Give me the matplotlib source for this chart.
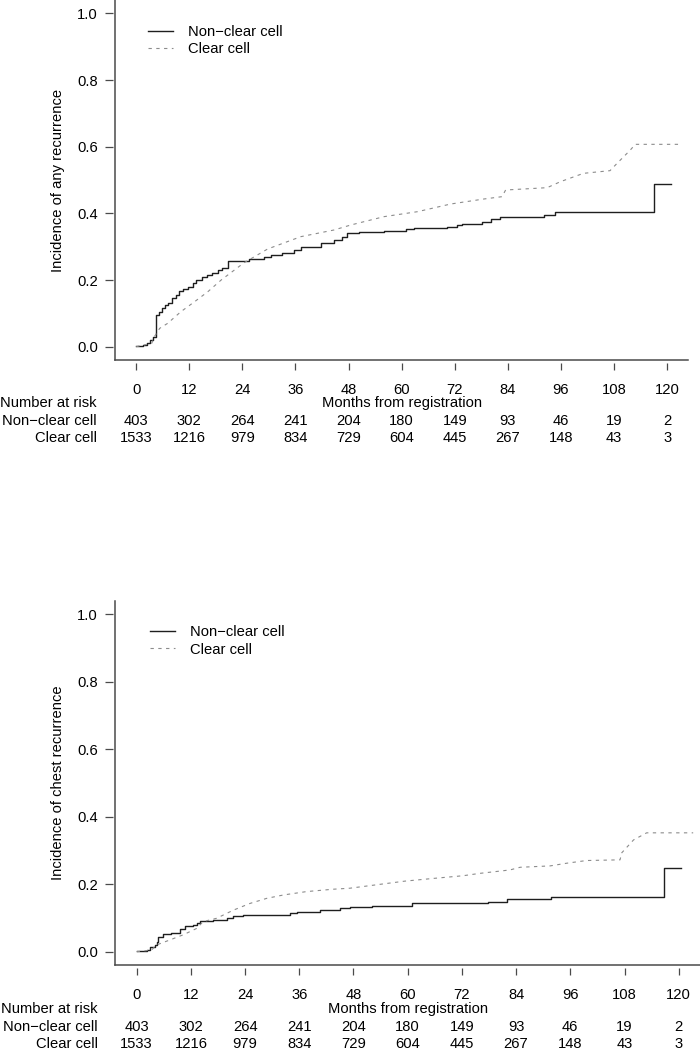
import matplotlib
matplotlib.use('Agg')
import matplotlib.pyplot as plt
import matplotlib.transforms as mtransforms

plt.rcParams['font.family'] = ['Liberation Sans', 'DejaVu Sans']
FS = 10.6
plt.rcParams['font.size'] = FS

# ---- data ----
months = [0, 12, 24, 36, 48, 60, 72, 84, 96, 108, 120]
yticks = [0.0, 0.2, 0.4, 0.6, 0.8, 1.0]
groups = ['Non\u2212clear cell', 'Clear cell']
risk_nonclear = [403, 302, 264, 241, 204, 180, 149, 93, 46, 19, 2]
risk_clear = [1533, 1216, 979, 834, 729, 604, 445, 267, 148, 43, 3]

# any recurrence, non-clear cell (step times / values)
any_nc_t = [0, 1.5, 2.5, 3.2, 3.8, 4.4, 5.2, 5.8, 6.5, 7.2, 8.0, 9.0, 9.6, 10.5, 11.8,
            12.8, 13.6, 14.8, 16.0, 17.2, 18.5, 19.5, 20.7, 25.5, 28.9, 30.5, 33.0,
            35.7, 37.2, 41.7, 44.7, 46.5, 47.7, 50.4, 56.0, 60.9, 62.8, 70.3, 72.6,
            73.7, 78.2, 80.1, 82.3, 92.1, 94.7, 117.1, 120.8]
any_nc_v = [0.002, 0.005, 0.01, 0.02, 0.03, 0.095, 0.105, 0.115, 0.125, 0.13, 0.145,
            0.155, 0.168, 0.172, 0.18, 0.19, 0.2, 0.208, 0.215, 0.222, 0.23, 0.236,
            0.258, 0.262, 0.268, 0.275, 0.282, 0.29, 0.30, 0.31, 0.32, 0.33, 0.34,
            0.343, 0.347, 0.354, 0.357, 0.36, 0.365, 0.368, 0.373, 0.382, 0.388,
            0.395, 0.405, 0.489, 0.489]
# any recurrence, clear cell
any_cc_t = [0, 3.5, 4.1, 5.3, 7.1, 10.1, 13.2, 16.2, 19.2, 22.2, 24.4, 29.7, 37.2, 44.7,
            48.5, 56.0, 63.6, 71.1, 78.6, 82.7, 83.5, 92.9, 95.9, 101.1, 107.1, 108.7,
            111.7, 112.8, 123.3]
any_cc_v = [0.0, 0.01, 0.03, 0.055, 0.07, 0.105, 0.135, 0.165, 0.2, 0.23, 0.252, 0.293,
            0.33, 0.35, 0.365, 0.39, 0.405, 0.428, 0.443, 0.45, 0.47, 0.477, 0.495,
            0.52, 0.528, 0.55, 0.59, 0.607, 0.607]

# chest recurrence, non-clear cell (step times / values)
chest_nc_t = [0, 2.2, 2.9, 4.1, 4.5, 4.8, 5.9, 7.7, 9.6, 10.7, 12.5, 13.3, 14.0, 17.0,
              19.9, 21.4, 23.6, 33.9, 35.4, 40.6, 45.0, 47.2, 52.0, 58.3, 60.9, 77.7,
              81.9, 91.7, 116.8, 120.4]
chest_nc_v = [0.002, 0.005, 0.015, 0.02, 0.03, 0.043, 0.052, 0.056, 0.066, 0.076, 0.079,
              0.085, 0.091, 0.094, 0.099, 0.106, 0.109, 0.114, 0.118, 0.123, 0.128,
              0.131, 0.134, 0.136, 0.143, 0.148, 0.155, 0.161, 0.247, 0.247]
# chest recurrence, clear cell
chest_cc_t = [0, 3.3, 4.4, 7.4, 10.3, 13.3, 14.7, 17.7, 21.4, 25.1, 28.8, 32.5, 37.6,
              43.5, 47.2, 59.4, 65.7, 72.3, 76.0, 82.6, 84.9, 91.5, 95.2, 99.6, 107.0,
              107.4, 110.0, 112.9, 123.2]
chest_cc_v = [0.0, 0.005, 0.02, 0.035, 0.05, 0.069, 0.089, 0.099, 0.123, 0.143, 0.158,
              0.168, 0.178, 0.185, 0.188, 0.209, 0.217, 0.225, 0.232, 0.242, 0.25,
              0.254, 0.262, 0.27, 0.272, 0.293, 0.331, 0.352, 0.352]

W, H = 700, 1050
fig = plt.figure(figsize=(W / 100, H / 100), dpi=100)

SPINE = '#4a4a4a'


def px(x0, y0, x1, y1):
    # pixel box -> figure fraction rect
    return [x0 / W, 1 - y1 / H, (x1 - x0) / W, (y1 - y0) / H]


def panel(rect, ylabel, nc_t, nc_v, cc_t, cc_v, leg_anchor, rows_px, right_px):
    ax = fig.add_axes(rect)
    ax.plot(nc_t, nc_v, drawstyle='steps-post', color='#1e1e1e', lw=1.0,
            label=groups[0])
    ax.plot(cc_t, cc_v, color='#8c8c8c', lw=0.8, dashes=(3, 4), label=groups[1])
    ax.set_xlim(-4.8, 124.8)
    ax.set_ylim(-0.04, 1.04)
    for s in ['top', 'right']:
        ax.spines[s].set_visible(False)
    for s in ['left', 'bottom']:
        ax.spines[s].set_color(SPINE)
        ax.spines[s].set_linewidth(1.1)
    ax.tick_params(left=False, bottom=False, labelleft=False, labelbottom=False)

    # axes with ticks slightly detached from the box, like R
    bh = rect[3] * H
    bw = rect[2] * W
    sx = ax.secondary_xaxis(-2.5 / bh)
    sx.spines['bottom'].set_visible(False)
    sx.set_xticks(months)
    sx.set_xticklabels([str(m) for m in months])
    sx.tick_params(length=5, width=0.9, color=SPINE, pad=9.5, labelsize=FS)
    sy = ax.secondary_yaxis(-1.8 / bw)
    sy.spines['left'].set_visible(False)
    sy.set_yticks(yticks)
    sy.set_yticklabels([f'{v:.1f}' for v in yticks])
    sy.tick_params(length=6, width=0.9, color=SPINE, pad=5, labelsize=FS)
    sy.set_ylabel(ylabel, fontsize=FS, labelpad=9)

    ax.legend(loc='upper left', bbox_to_anchor=leg_anchor, frameon=False,
              borderpad=0, borderaxespad=0, handlelength=1.7, handletextpad=1.0,
              labelspacing=0.22, fontsize=FS)

    tr = mtransforms.blended_transform_factory(ax.transData, fig.transFigure)
    y_lab, y_nc, y_cc = [1 - r / H for r in rows_px]
    xc = sum(ax.get_xlim()) / 2
    ax.text(xc, y_lab, 'Months from registration', transform=tr,
            ha='center', va='center', fontsize=FS)
    xr = right_px / W
    fig.text(xr, y_lab, 'Number at risk', ha='right', va='center', fontsize=FS)
    fig.text(xr, y_nc, groups[0], ha='right', va='center', fontsize=FS)
    fig.text(xr, y_cc, groups[1], ha='right', va='center', fontsize=FS)
    for m, a, b in zip(months, risk_nonclear, risk_clear):
        ax.text(m, y_nc, str(a), transform=tr, ha='center', va='center', fontsize=FS)
        ax.text(m, y_cc, str(b), transform=tr, ha='center', va='center', fontsize=FS)
    return ax


panel(px(115, 0, 688.3, 360), 'Incidence of any recurrence',
      any_nc_t, any_nc_v, any_cc_t, any_cc_v, (0.0576, 0.93),
      (402.7, 420.7, 438.3), 96.7)
panel(px(115, 600.5, 700.4, 965.2), 'Incidence of chest recurrence',
      chest_nc_t, chest_nc_v, chest_cc_t, chest_cc_v, (0.0598, 0.932),
      (1009, 1026.7, 1044.5), 98)

fig.savefig('out.png', dpi=100)
